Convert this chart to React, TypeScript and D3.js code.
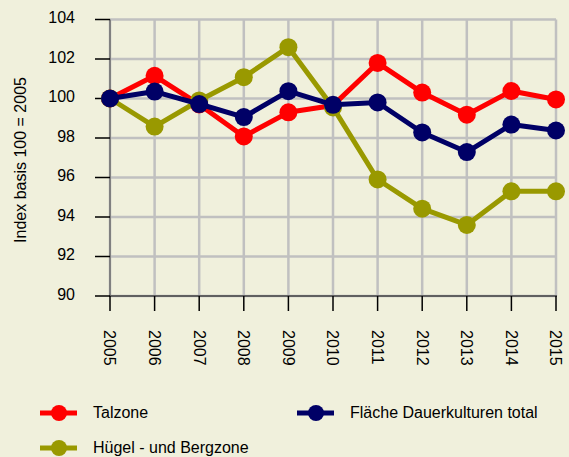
import React from "react";
import * as d3 from "d3";

const years = [2005, 2006, 2007, 2008, 2009, 2010, 2011, 2012, 2013, 2014, 2015];
const talzone = [100, 101.15, 99.7, 98.08, 99.3, 99.65, 101.8, 100.3, 99.18, 100.38, 99.95];
const dauerkulturen = [100, 100.35, 99.72, 99.06, 100.37, 99.68, 99.8, 98.28, 97.29, 98.68, 98.38];
const huegel = [100, 98.58, 99.9, 101.08, 102.6, 99.55, 95.9, 94.42, 93.6, 95.3, 95.3];
const yTicks = [90, 92, 94, 96, 98, 100, 102, 104];

const seriesNames = ["Talzone", "Fläche Dauerkulturen total", "Hügel - und Bergzone"];
const seriesColors = ["#ff0000", "#000066", "#999900"];

const W = 569;
const H = 457;
const bg = "#f0f0dc";
const font = "Arial, 'Liberation Sans', sans-serif";

export default function App() {
  const x = d3.scaleLinear().domain([2005, 2015]).range([110, 556]);
  const y = d3.scaleLinear().domain([90, 104]).range([296, 19.5]);
  const line = d3
    .line<number>()
    .x((_, i) => x(years[i]))
    .y((d) => y(d));

  const drawOrder = [
    { data: talzone, color: seriesColors[0] },
    { data: huegel, color: seriesColors[2] },
    { data: dauerkulturen, color: seriesColors[1] },
  ];

  const legend = [
    { name: seriesNames[0], color: seriesColors[0], lx: 40, ly: 413 },
    { name: seriesNames[1], color: seriesColors[1], lx: 297, ly: 413 },
    { name: seriesNames[2], color: seriesColors[2], lx: 40, ly: 448 },
  ];

  return (
    <svg
      width={W}
      height={H}
      style={{ position: "absolute", left: 0, top: 0, background: bg }}
      fontFamily={font}
    >
      <rect x={0} y={0} width={W} height={H} fill={bg} />
      {yTicks.map((t) => (
        <line key={"gy" + t} x1={x(2005)} x2={x(2015)} y1={y(t)} y2={y(t)} stroke="#c0c0c0" strokeWidth={2.5} />
      ))}
      {years.map((yr) => (
        <line key={"gx" + yr} x1={x(yr)} x2={x(yr)} y1={y(104)} y2={y(90)} stroke="#c0c0c0" strokeWidth={2.5} />
      ))}
      <line x1={x(2005)} x2={x(2005)} y1={y(104)} y2={y(90)} stroke="#808080" strokeWidth={2} />
      <line x1={x(2005) - 1} x2={x(2015) + 1} y1={y(90)} y2={y(90)} stroke="#606060" strokeWidth={2} />
      {yTicks.map((t) => (
        <g key={"yt" + t}>
          <line x1={95} x2={x(2005)} y1={y(t)} y2={y(t)} stroke="#000" strokeWidth={1.5} />
          <text x={75} y={y(t) - 2} dy="0.35em" textAnchor="end" fontSize={16} fill="#000">
            {t}
          </text>
        </g>
      ))}
      {years.map((yr) => (
        <g key={"xt" + yr}>
          <line x1={x(yr)} x2={x(yr)} y1={y(90)} y2={311} stroke="#000" strokeWidth={1.5} />
          <text
            transform={`translate(${x(yr)},330) rotate(90)`}
            dy="0.35em"
            textAnchor="start"
            fontSize={16}
            fill="#000"
          >
            {yr}
          </text>
        </g>
      ))}
      <text
        transform={`translate(20,160) rotate(-90)`}
        dy="0.35em"
        textAnchor="middle"
        fontSize={16}
        fill="#000"
      >
        Index basis 100 = 2005
      </text>
      {drawOrder.map((s, si) => (
        <g key={"s" + si}>
          <path d={line(s.data) || ""} fill="none" stroke={s.color} strokeWidth={5} strokeLinejoin="round" />
          {s.data.map((v, i) => (
            <circle key={i} cx={x(years[i])} cy={y(v)} r={9} fill={s.color} />
          ))}
        </g>
      ))}
      {legend.map((l) => (
        <g key={l.name}>
          <line x1={l.lx} x2={l.lx + 37} y1={l.ly} y2={l.ly} stroke={l.color} strokeWidth={5} />
          <circle cx={l.lx + 19} cy={l.ly} r={8} fill={l.color} />
          <text x={l.lx + 53} y={l.ly - 1} dy="0.35em" fontSize={16} fill="#000">
            {l.name}
          </text>
        </g>
      ))}
    </svg>
  );
}
